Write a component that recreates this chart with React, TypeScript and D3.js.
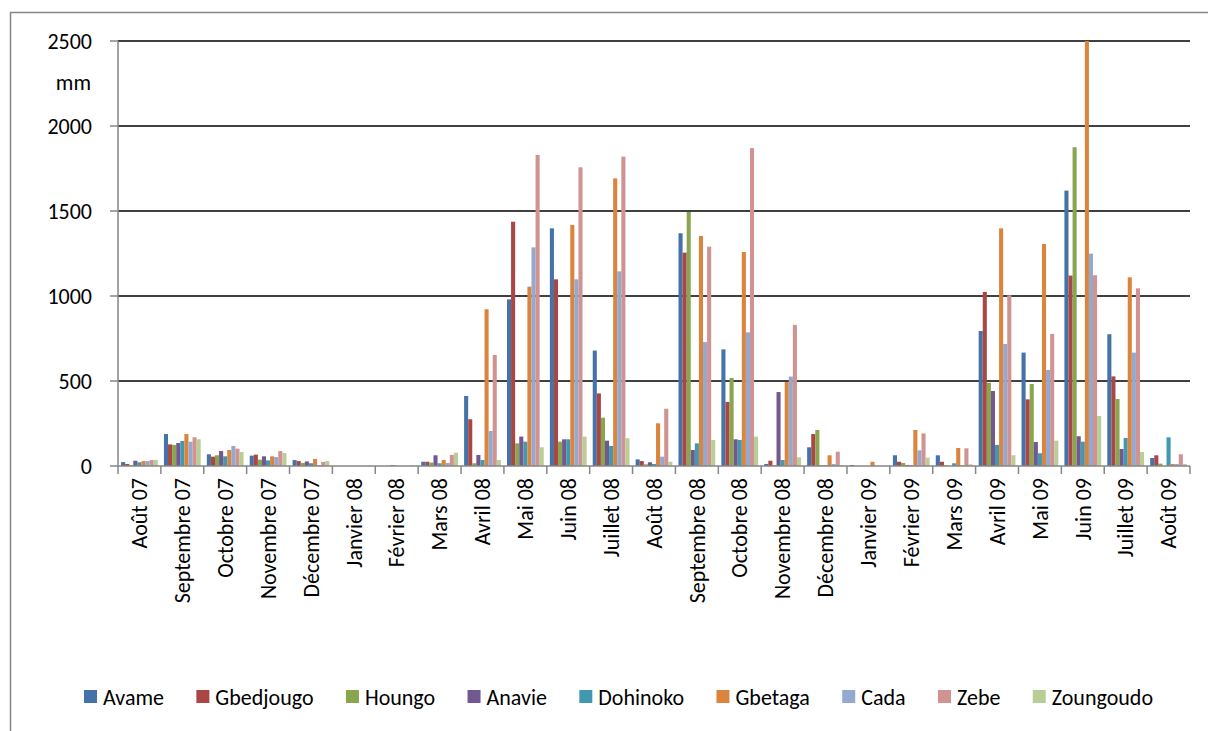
import React, { useEffect, useRef } from 'react';
import * as d3 from 'd3';

const months = [
  'Août 07', 'Septembre 07', 'Octobre 07', 'Novembre 07', 'Décembre 07',
  'Janvier 08', 'Février 08', 'Mars 08', 'Avril 08', 'Mai 08', 'Juin 08',
  'Juillet 08', 'Août 08', 'Septembre 08', 'Octobre 08', 'Novembre 08',
  'Décembre 08', 'Janvier 09', 'Février 09', 'Mars 09', 'Avril 09', 'Mai 09',
  'Juin 09', 'Juillet 09', 'Août 09',
];

const stations = ['Avame', 'Gbedjougo', 'Houngo', 'Anavie', 'Dohinoko', 'Gbetaga', 'Cada', 'Zebe', 'Zoungoudo'];

const avame = [23, 188, 69, 61, 35, 0, 0, 25, 412, 980, 1398, 679, 39, 1369, 686, 12, 110, 6, 63, 63, 794, 667, 1620, 775, 47];
const gbedjougo = [12, 127, 55, 67, 29, 0, 0, 25, 275, 1437, 1098, 427, 29, 1255, 377, 31, 188, 0, 25, 25, 1024, 392, 1120, 527, 63];
const houngo = [4, 124, 63, 37, 18, 0, 0, 20, 16, 133, 143, 284, 10, 1494, 518, 4, 212, 0, 18, 4, 490, 482, 1875, 394, 14];
const anavie = [31, 135, 88, 57, 27, 0, 5, 63, 65, 173, 157, 149, 22, 94, 157, 435, 4, 0, 6, 0, 441, 141, 175, 100, 0];
const dohinoko = [22, 147, 57, 33, 16, 0, 0, 16, 35, 143, 157, 118, 12, 133, 153, 35, 4, 0, 4, 16, 124, 75, 143, 165, 169];
const gbetaga = [29, 188, 94, 57, 41, 0, 0, 35, 922, 1055, 1418, 1692, 251, 1353, 1259, 494, 63, 25, 212, 106, 1398, 1306, 2500, 1110, 12];
const cada = [29, 143, 118, 53, 4, 0, 0, 18, 206, 1286, 1098, 1145, 55, 729, 786, 526, 12, 0, 92, 4, 718, 565, 1249, 667, 12];
const zebe = [35, 169, 102, 88, 24, 0, 0, 65, 653, 1830, 1757, 1820, 337, 1290, 1870, 830, 84, 0, 192, 104, 1004, 777, 1122, 1045, 69];
const zoungoudo = [35, 157, 82, 76, 29, 0, 3, 78, 35, 110, 173, 163, 25, 153, 173, 51, 4, 0, 49, 10, 63, 149, 294, 82, 12];

const seriesValues = [avame, gbedjougo, houngo, anavie, dohinoko, gbetaga, cada, zebe, zoungoudo];
const colors = ['#4572A7', '#AA4643', '#89A54E', '#71588F', '#4198AF', '#DB843D', '#93A9CF', '#D19392', '#B9CD96'];
const yTicks = [0, 500, 1000, 1500, 2000, 2500];

const FONT = 'Carlito, Calibri, Lato, sans-serif';

export default function App() {
  const svgRef = useRef<SVGSVGElement>(null);

  useEffect(() => {
    if (!svgRef.current) return;
    const svg = d3.select(svgRef.current);
    svg.selectAll('*').remove();

    const left = 118, right = 1190, top = 41, bottom = 466;

    // outer chart frame
    svg.append('rect')
      .attr('x', 10.5).attr('y', 12.5)
      .attr('width', 1230).attr('height', 740)
      .attr('fill', 'white').attr('stroke', '#868686').attr('stroke-width', 1.5);

    const x0 = d3.scaleBand<string>().domain(months).range([left, right]).padding(0);
    const bw = x0.bandwidth();
    const gap = bw * 1.5 / 10.5;
    const x1 = d3.scaleBand<string>().domain(stations).range([gap / 2, bw - gap / 2]).padding(0);
    const y = d3.scaleLinear().domain([0, 2500]).range([bottom, top]);

    // gridlines
    svg.append('g').selectAll('line')
      .data(yTicks.filter(t => t > 0))
      .enter().append('line')
      .attr('x1', left).attr('x2', right)
      .attr('y1', d => y(d)).attr('y2', d => y(d))
      .attr('stroke', '#000').attr('stroke-width', 1.6);

    // bars
    stations.forEach((s, si) => {
      svg.append('g').attr('fill', colors[si])
        .selectAll('rect')
        .data(seriesValues[si])
        .enter().append('rect')
        .attr('x', (d, i) => x0(months[i])! + x1(s)!)
        .attr('width', x1.bandwidth())
        .attr('y', d => y(Math.min(d, 2500)))
        .attr('height', d => bottom - y(Math.min(d, 2500)));
    });

    // y axis
    const axisColor = '#868686';
    svg.append('line')
      .attr('x1', left).attr('x2', left).attr('y1', top).attr('y2', bottom)
      .attr('stroke', axisColor).attr('stroke-width', 1.5);
    svg.append('g').selectAll('line')
      .data(yTicks).enter().append('line')
      .attr('x1', left - 8).attr('x2', left)
      .attr('y1', d => y(d)).attr('y2', d => y(d))
      .attr('stroke', axisColor).attr('stroke-width', 1.5);
    svg.append('g').selectAll('text')
      .data(yTicks).enter().append('text')
      .attr('x', 92).attr('y', d => y(d))
      .attr('dy', '0.35em')
      .attr('text-anchor', 'end')
      .style('font-family', FONT).style('font-size', '22px').attr('fill', '#000')
      .text(d => d);
    svg.append('text')
      .attr('x', 91).attr('y', 82).attr('dy', '0.35em')
      .attr('text-anchor', 'end')
      .style('font-family', FONT).style('font-size', '22px')
      .text('mm');

    // x axis
    svg.append('line')
      .attr('x1', left).attr('x2', right).attr('y1', bottom).attr('y2', bottom)
      .attr('stroke', axisColor).attr('stroke-width', 1.5);
    const boundaries = months.map(m => x0(m)!).concat([right]);
    svg.append('g').selectAll('line')
      .data(boundaries).enter().append('line')
      .attr('x1', d => d).attr('x2', d => d)
      .attr('y1', bottom).attr('y2', bottom + 8)
      .attr('stroke', axisColor).attr('stroke-width', 1.5);
    svg.append('g').selectAll('text')
      .data(months).enter().append('text')
      .attr('transform', d => `translate(${x0(d)! + bw / 2},${bottom + 12}) rotate(-90)`)
      .attr('dy', '0.35em')
      .attr('text-anchor', 'end')
      .style('font-family', FONT).style('font-size', '22px')
      .text(d => d);

    // legend, spread between x=84 and x=1153
    const legend = svg.append('g');
    const items = stations.map((s, i) => {
      const g = legend.append('g');
      g.append('rect').attr('x', 0).attr('y', -7).attr('width', 13).attr('height', 13).attr('fill', colors[i]);
      const t = g.append('text').attr('x', 19).attr('y', 0).attr('dy', '0.35em')
        .style('font-family', FONT).style('font-size', '22px').text(s);
      const w = 19 + (t.node() as SVGTextElement).getComputedTextLength();
      return { g, w };
    });
    const span = 1153 - 84;
    const spacing = Math.max(8, (span - d3.sum(items, d => d.w)) / (items.length - 1));
    const total = d3.sum(items, d => d.w) + spacing * (items.length - 1);
    let cx = 618.5 - total / 2;
    items.forEach(it => {
      it.g.attr('transform', `translate(${cx},697)`);
      cx += it.w + spacing;
    });
  }, []);

  return (
    <svg
      ref={svgRef}
      width={1208}
      height={731}
      style={{ position: 'absolute', left: 0, top: 0, display: 'block' }}
    />
  );
}
